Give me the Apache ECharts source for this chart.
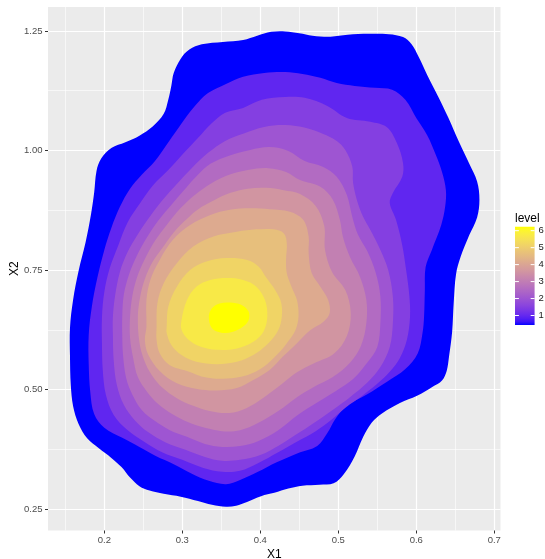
<!DOCTYPE html>
<html><head><meta charset="utf-8">
<script src="https://cdn.jsdelivr.net/npm/echarts@6/dist/echarts.min.js"></script>
<style>html,body{margin:0;padding:0;background:#fff}#main{width:545px;height:559px}</style>
</head><body><div id="main"></div>
<script>
// ---------- data ----------
const xTicks = [0.2, 0.3, 0.4, 0.5, 0.6, 0.7];
const yTicks = [0.25, 0.5, 0.75, 1.0, 1.25];
const legendBreaks = [1, 2, 3, 4, 5, 6];
const levels = [0.5, 1, 1.5, 2, 2.5, 3, 3.5, 4, 4.5, 5, 5.5, 6];

const level05 = [[0.289,1.162],[0.298,1.192],[0.309,1.211],[0.325,1.222],[0.352,1.227],[0.378,1.231],[0.396,1.240],[0.414,1.248],[0.432,1.249],[0.450,1.245],[0.467,1.240],[0.490,1.238],[0.512,1.242],[0.539,1.244],[0.565,1.243],[0.583,1.237],[0.594,1.222],[0.603,1.196],[0.614,1.158],[0.628,1.113],[0.641,1.069],[0.655,1.017],[0.668,0.972],[0.678,0.935],[0.681,0.897],[0.678,0.860],[0.668,0.823],[0.657,0.778],[0.651,0.741],[0.648,0.681],[0.646,0.621],[0.642,0.569],[0.639,0.539],[0.633,0.519],[0.621,0.506],[0.601,0.487],[0.579,0.472],[0.556,0.450],[0.543,0.431],[0.532,0.401],[0.521,0.360],[0.507,0.323],[0.494,0.304],[0.476,0.301],[0.454,0.299],[0.436,0.293],[0.418,0.284],[0.401,0.277],[0.383,0.265],[0.369,0.257],[0.356,0.255],[0.338,0.259],[0.320,0.267],[0.298,0.276],[0.276,0.282],[0.258,0.289],[0.245,0.298],[0.233,0.316],[0.222,0.338],[0.209,0.357],[0.193,0.377],[0.178,0.398],[0.167,0.428],[0.160,0.465],[0.157,0.510],[0.156,0.569],[0.156,0.629],[0.160,0.688],[0.167,0.748],[0.176,0.808],[0.183,0.867],[0.187,0.912],[0.190,0.957],[0.196,0.983],[0.209,1.005],[0.227,1.017],[0.245,1.031],[0.262,1.050],[0.276,1.076],[0.282,1.106],[0.286,1.136]];
const level10 = [[0.333,1.120],[0.356,1.139],[0.378,1.154],[0.405,1.162],[0.432,1.164],[0.454,1.160],[0.477,1.152],[0.498,1.141],[0.521,1.135],[0.547,1.131],[0.569,1.127],[0.586,1.106],[0.600,1.068],[0.614,1.032],[0.625,0.991],[0.633,0.955],[0.638,0.917],[0.637,0.882],[0.632,0.844],[0.620,0.792],[0.612,0.756],[0.611,0.708],[0.610,0.652],[0.608,0.618],[0.602,0.576],[0.586,0.543],[0.562,0.516],[0.536,0.489],[0.511,0.466],[0.496,0.438],[0.486,0.409],[0.473,0.382],[0.448,0.367],[0.421,0.348],[0.397,0.328],[0.374,0.311],[0.356,0.302],[0.334,0.309],[0.311,0.325],[0.289,0.344],[0.266,0.361],[0.245,0.380],[0.223,0.399],[0.200,0.420],[0.187,0.449],[0.182,0.495],[0.180,0.553],[0.180,0.614],[0.184,0.673],[0.191,0.733],[0.200,0.792],[0.209,0.838],[0.220,0.882],[0.233,0.920],[0.248,0.949],[0.265,0.978],[0.279,1.010],[0.295,1.047],[0.310,1.081],[0.321,1.102]];
const level15 = [[0.355,1.079],[0.378,1.089],[0.402,1.106],[0.432,1.112],[0.457,1.110],[0.486,1.093],[0.511,1.068],[0.541,1.060],[0.562,1.049],[0.575,1.016],[0.583,0.974],[0.582,0.945],[0.570,0.911],[0.566,0.890],[0.574,0.855],[0.582,0.802],[0.587,0.750],[0.591,0.698],[0.592,0.652],[0.588,0.604],[0.579,0.566],[0.566,0.537],[0.550,0.512],[0.530,0.486],[0.510,0.463],[0.492,0.438],[0.471,0.413],[0.448,0.392],[0.423,0.369],[0.397,0.346],[0.374,0.330],[0.351,0.328],[0.327,0.336],[0.300,0.353],[0.274,0.369],[0.252,0.390],[0.230,0.415],[0.212,0.447],[0.202,0.489],[0.198,0.541],[0.197,0.593],[0.197,0.652],[0.200,0.704],[0.207,0.754],[0.218,0.802],[0.230,0.850],[0.246,0.890],[0.262,0.926],[0.282,0.959],[0.301,0.993],[0.320,1.026],[0.337,1.056]];
const level20 = [[0.355,1.020],[0.378,1.035],[0.405,1.049],[0.432,1.053],[0.459,1.047],[0.480,1.035],[0.498,1.020],[0.509,1.001],[0.518,0.966],[0.519,0.932],[0.525,0.890],[0.532,0.861],[0.541,0.834],[0.554,0.792],[0.564,0.750],[0.570,0.694],[0.570,0.639],[0.566,0.589],[0.554,0.547],[0.537,0.514],[0.515,0.484],[0.496,0.461],[0.474,0.436],[0.451,0.411],[0.425,0.384],[0.400,0.363],[0.374,0.353],[0.351,0.351],[0.329,0.359],[0.304,0.374],[0.278,0.390],[0.256,0.411],[0.239,0.436],[0.225,0.468],[0.216,0.510],[0.212,0.562],[0.211,0.614],[0.211,0.652],[0.214,0.698],[0.220,0.746],[0.230,0.788],[0.243,0.825],[0.259,0.863],[0.275,0.897],[0.293,0.930],[0.312,0.963],[0.333,0.995]];
const level25 = [[0.336,0.972],[0.360,0.989],[0.387,1.001],[0.412,1.007],[0.436,0.999],[0.457,0.978],[0.480,0.966],[0.498,0.945],[0.511,0.907],[0.518,0.861],[0.525,0.825],[0.537,0.790],[0.548,0.744],[0.554,0.694],[0.554,0.639],[0.550,0.589],[0.537,0.556],[0.519,0.522],[0.497,0.497],[0.474,0.474],[0.448,0.447],[0.423,0.415],[0.397,0.392],[0.374,0.382],[0.351,0.380],[0.329,0.386],[0.306,0.401],[0.284,0.415],[0.265,0.434],[0.248,0.457],[0.236,0.489],[0.228,0.524],[0.224,0.572],[0.223,0.614],[0.223,0.652],[0.225,0.698],[0.232,0.742],[0.242,0.781],[0.255,0.819],[0.270,0.855],[0.287,0.888],[0.305,0.922],[0.320,0.949]];
const level30 = [[0.338,0.932],[0.360,0.949],[0.384,0.959],[0.410,0.963],[0.433,0.955],[0.451,0.938],[0.477,0.924],[0.493,0.897],[0.502,0.855],[0.506,0.819],[0.515,0.777],[0.528,0.735],[0.536,0.687],[0.536,0.639],[0.529,0.591],[0.515,0.556],[0.493,0.526],[0.468,0.505],[0.447,0.484],[0.423,0.455],[0.397,0.430],[0.374,0.415],[0.351,0.413],[0.329,0.420],[0.307,0.432],[0.287,0.449],[0.269,0.470],[0.255,0.495],[0.243,0.526],[0.237,0.566],[0.233,0.608],[0.233,0.652],[0.236,0.696],[0.242,0.735],[0.252,0.773],[0.265,0.811],[0.280,0.844],[0.297,0.878],[0.316,0.907]];
const level35 = [[0.342,0.897],[0.361,0.911],[0.384,0.920],[0.407,0.922],[0.430,0.917],[0.451,0.909],[0.471,0.884],[0.482,0.842],[0.483,0.792],[0.492,0.746],[0.509,0.708],[0.516,0.660],[0.511,0.612],[0.495,0.576],[0.469,0.555],[0.448,0.537],[0.428,0.512],[0.405,0.484],[0.382,0.461],[0.360,0.451],[0.335,0.455],[0.314,0.466],[0.293,0.482],[0.275,0.503],[0.261,0.530],[0.251,0.562],[0.245,0.599],[0.243,0.652],[0.246,0.694],[0.252,0.731],[0.262,0.767],[0.277,0.802],[0.293,0.836],[0.310,0.863],[0.325,0.882]];
const level40 = [[0.254,0.631],[0.254,0.687],[0.259,0.729],[0.271,0.771],[0.288,0.813],[0.310,0.844],[0.336,0.865],[0.361,0.876],[0.387,0.879],[0.412,0.877],[0.438,0.872],[0.455,0.855],[0.462,0.820],[0.462,0.785],[0.466,0.743],[0.477,0.715],[0.487,0.687],[0.489,0.660],[0.481,0.642],[0.464,0.624],[0.447,0.597],[0.429,0.569],[0.412,0.541],[0.391,0.520],[0.370,0.503],[0.344,0.498],[0.319,0.501],[0.293,0.513],[0.271,0.539],[0.256,0.574],[0.252,0.604]];
const level45 = [[0.267,0.631],[0.268,0.680],[0.276,0.722],[0.293,0.764],[0.314,0.799],[0.340,0.820],[0.370,0.830],[0.395,0.835],[0.417,0.835],[0.430,0.827],[0.434,0.806],[0.433,0.771],[0.434,0.743],[0.440,0.715],[0.447,0.687],[0.449,0.652],[0.445,0.624],[0.434,0.597],[0.421,0.572],[0.404,0.547],[0.383,0.530],[0.357,0.523],[0.331,0.525],[0.306,0.539],[0.284,0.551],[0.271,0.576],[0.267,0.604]];
const level50 = [[0.280,0.632],[0.282,0.673],[0.293,0.715],[0.310,0.750],[0.331,0.768],[0.357,0.775],[0.383,0.771],[0.398,0.757],[0.408,0.733],[0.419,0.708],[0.427,0.680],[0.427,0.645],[0.421,0.618],[0.408,0.593],[0.391,0.572],[0.370,0.558],[0.344,0.553],[0.318,0.558],[0.299,0.572],[0.286,0.593],[0.280,0.618]];
const level55 = [[0.299,0.645],[0.306,0.687],[0.318,0.715],[0.336,0.729],[0.357,0.733],[0.378,0.729],[0.395,0.715],[0.406,0.687],[0.409,0.652],[0.404,0.621],[0.391,0.600],[0.370,0.586],[0.344,0.583],[0.323,0.590],[0.308,0.604],[0.299,0.625]];
const level60 = [[0.334,0.652],[0.338,0.670],[0.348,0.680],[0.361,0.682],[0.376,0.677],[0.385,0.663],[0.385,0.645],[0.378,0.632],[0.365,0.621],[0.350,0.619],[0.338,0.628]];

const contours = [level05, level10, level15, level20, level25, level30, level35, level40, level45, level50, level55, level60];

// ---------- colour scale (CIELAB interpolation, like ggplot2 scale_fill_gradient) ----------
function toLin(c){ c/=255; return c<=0.04045 ? c/12.92 : Math.pow((c+0.055)/1.055,2.4); }
function toSrgb(c){ c = c<=0.0031308 ? 12.92*c : 1.055*Math.pow(c,1/2.4)-0.055; return Math.round(Math.max(0,Math.min(1,c))*255); }
const Xn=0.95047, Yn=1.0, Zn=1.08883, EPS=216/24389, KAP=24389/27;
function fLab(t){ return t>EPS ? Math.cbrt(t) : (KAP*t+16)/116; }
function fInv(t){ const t3=t*t*t; return t3>EPS ? t3 : (116*t-16)/KAP; }
function rgb2lab(hex){
  const r=toLin(parseInt(hex.substr(1,2),16)), g=toLin(parseInt(hex.substr(3,2),16)), b=toLin(parseInt(hex.substr(5,2),16));
  const X=0.4124564*r+0.3575761*g+0.1804375*b, Y=0.2126729*r+0.7151522*g+0.0721750*b, Z=0.0193339*r+0.1191920*g+0.9503041*b;
  const fx=fLab(X/Xn), fy=fLab(Y/Yn), fz=fLab(Z/Zn);
  return [116*fy-16, 500*(fx-fy), 200*(fy-fz)];
}
function lab2rgb(L,a,b){
  const fy=(L+16)/116, fx=fy+a/500, fz=fy-b/200;
  const X=Xn*fInv(fx), Y=Yn*fInv(fy), Z=Zn*fInv(fz);
  const r=3.2404542*X-1.5371385*Y-0.4985314*Z, g=-0.9692660*X+1.8760108*Y+0.0415560*Z, bb=0.0556434*X-0.2040259*Y+1.0572252*Z;
  return 'rgb('+toSrgb(r)+','+toSrgb(g)+','+toSrgb(bb)+')';
}
const LOW=rgb2lab('#0000FF'), HIGH=rgb2lab('#FFFF00');
function colorAt(t){ t=Math.max(0,Math.min(1,t)); return lab2rgb(LOW[0]+(HIGH[0]-LOW[0])*t, LOW[1]+(HIGH[1]-LOW[1])*t, LOW[2]+(HIGH[2]-LOW[2])*t); }
const lvMin = levels[0], lvMax = levels[levels.length-1];
const fillOf = lv => colorAt((lv-lvMin)/(lvMax-lvMin));

// ---------- chart ----------
const FONT = '"Liberation Sans", Arial, Helvetica, sans-serif';
const chart = echarts.init(document.getElementById('main'), null, {renderer:'canvas'});

const series = levels.map((lv, i) => ({
  type: 'custom',
  name: 'level ' + lv,
  coordinateSystem: 'cartesian2d',
  silent: true,
  z: 2 + i,
  clip: true,
  encode: {x: 0, y: 1},
  data: [contours[i][0]],
  renderItem: function (params, api) {
    const pts = contours[i].map(p => api.coord(p));
    return {type: 'polygon', shape: {points: pts, smooth: 0.35}, style: {fill: fillOf(lv), stroke: null}};
  }
}));

// legend colour bar (drawn as graphics)
const barX = 515, barW = 19.6, barTop = 226.7, barH = 98.4;
const yOfBreak = v => 315.5 - (v - 1) * 16.96;
const stops = [];
for (let k = 0; k <= 30; k++) stops.push({offset: k/30, color: colorAt(1 - k/30)});
const legendEls = [
  {type:'text', x: barX, y: 218.5, style:{text:'level', fontSize:12, fontFamily:FONT, fill:'#000', align:'left', verticalAlign:'middle'}},
  {type:'rect', shape:{x: barX, y: barTop, width: barW, height: barH}, style:{fill: new echarts.graphic.LinearGradient(0,0,0,1,stops)}}
];
legendBreaks.forEach(v => {
  const y = yOfBreak(v);
  legendEls.push({type:'line', shape:{x1: barX, y1: y, x2: barX + barW/5, y2: y}, style:{stroke:'#fff', lineWidth:1}});
  legendEls.push({type:'line', shape:{x1: barX + barW*4/5, y1: y, x2: barX + barW, y2: y}, style:{stroke:'#fff', lineWidth:1}});
  legendEls.push({type:'text', x: barX + barW + 4, y: y, style:{text: String(v), fontSize: 9.5, fontFamily: FONT, fill:'#1A1A1A', align:'left', verticalAlign:'middle'}});
});

const axisCommon = {
  type: 'value',
  axisLine: {show: false},
  nameLocation: 'middle',
  nameMoveOverlap: false,
  nameTextStyle: {fontSize: 12, color: '#000', fontFamily: FONT},
  splitLine: {show: true, lineStyle: {color: '#FFFFFF', width: 1.2}},
  minorTick: {show: false, splitNumber: 2},
  minorSplitLine: {show: true, lineStyle: {color: '#FFFFFF', width: 0.6}}
};

const option = {
  animation: false,
  backgroundColor: '#FFFFFF',
  grid: {left: 48, right: 44.5, top: 7, bottom: 28.5, show: true, backgroundColor: '#EBEBEB', borderWidth: 0,
         containLabel: false, outerBoundsMode: 'none'},
  xAxis: Object.assign({}, axisCommon, {
    min: 0.1278, max: 0.708, minInterval: 0.1, maxInterval: 0.1,
    name: 'X1', nameGap: 18,
    axisTick: {show: true, length: 3, customValues: xTicks, lineStyle: {color: '#333333', width: 1}},
    axisLabel: {customValues: xTicks, formatter: v => Number(v).toFixed(1), color: '#4D4D4D', fontSize: 9.5, fontFamily: FONT, margin: 5}
  }),
  yAxis: Object.assign({}, axisCommon, {
    min: 0.2052, max: 1.300, minInterval: 0.25, maxInterval: 0.25,
    name: 'X2', nameGap: 27, nameRotate: 90,
    axisTick: {show: true, length: 3, customValues: yTicks, lineStyle: {color: '#333333', width: 1}},
    axisLabel: {customValues: yTicks, formatter: v => Number(v).toFixed(2), color: '#4D4D4D', fontSize: 9.5, fontFamily: FONT, margin: 5.5}
  }),
  series: series,
  graphic: legendEls
};
chart.setOption(option);
</script>
</body></html>
